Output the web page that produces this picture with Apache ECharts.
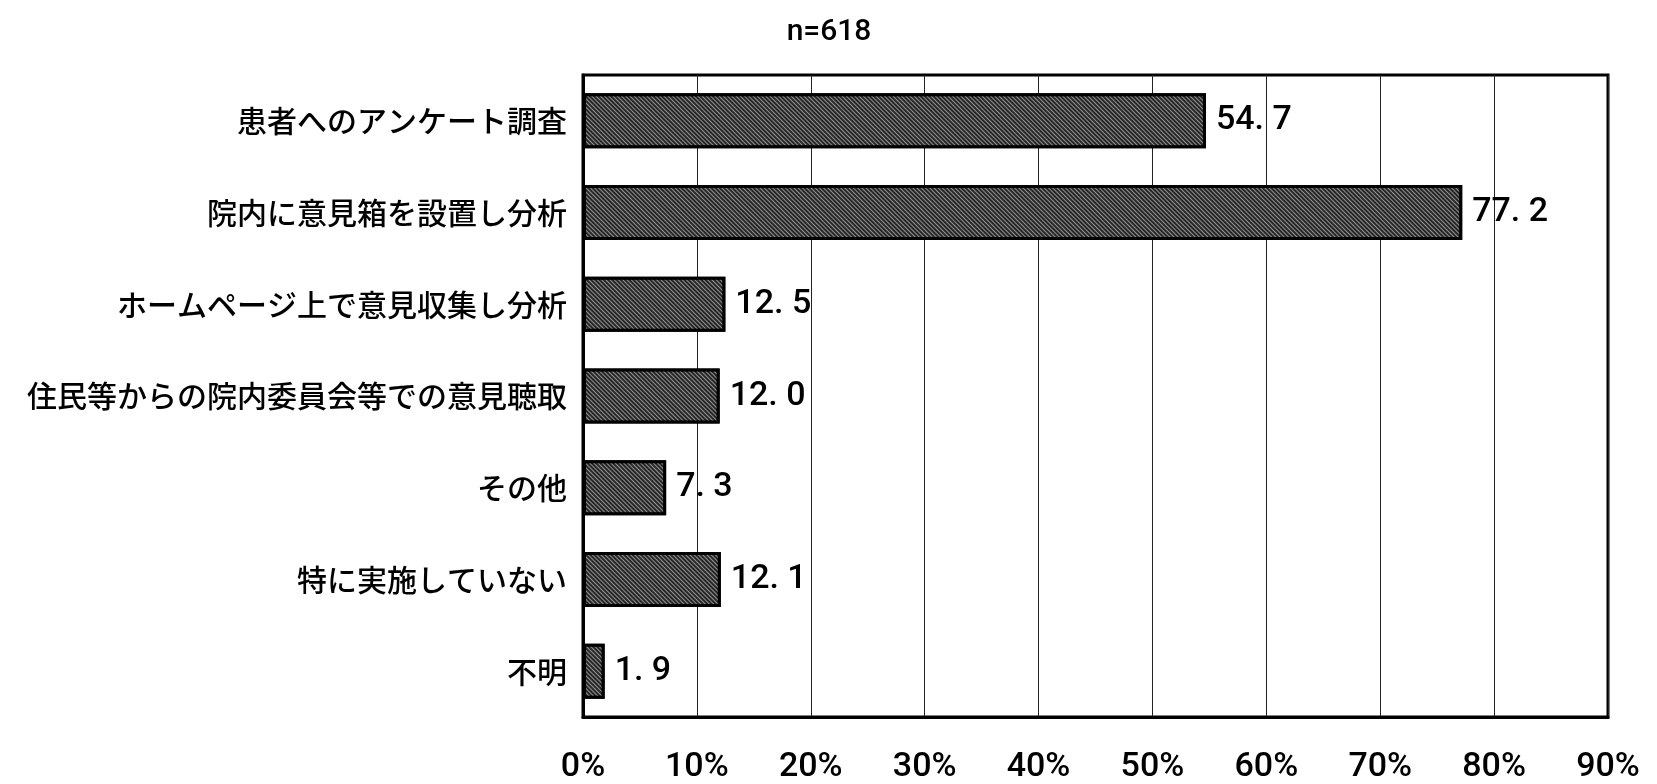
<!DOCTYPE html>
<html>
<head>
<meta charset="utf-8">
<script src="https://cdn.jsdelivr.net/npm/echarts@6/dist/echarts.min.js"></script>
<style>
  html, body { margin: 0; padding: 0; background: #fff; }
  #chart { width: 1657px; height: 784px; }
</style>
</head>
<body>
<div id="chart"></div>
<script>
// 患者の意見収集の方法（複数回答）
const sampleLabel = 'n=618';
const categories = [
  '患者へのアンケート調査',
  '院内に意見箱を設置し分析',
  'ホームページ上で意見収集し分析',
  '住民等からの院内委員会等での意見聴取',
  'その他',
  '特に実施していない',
  '不明'
];
const percentages = [54.7, 77.2, 12.5, 12.0, 7.3, 12.1, 1.9];
const axisMax = 90;
const axisStep = 10;

const narrow = 'Roboto, "Liberation Sans", sans-serif';
const cjk = '"Noto Sans CJK JP", "Noto Sans", sans-serif';

const chart = echarts.init(document.getElementById('chart'), null, { renderer: 'canvas' });

chart.setOption({
  animation: false,
  backgroundColor: '#ffffff',
  title: {
    text: sampleLabel,
    left: 824,
    top: 12,
    textAlign: 'center',
    textStyle: { fontFamily: narrow, fontSize: 30, fontWeight: 500, color: '#000' }
  },
  grid: {
    left: 583,
    top: 75,
    width: 1025,
    height: 642,
    show: true,
    borderColor: '#000',
    borderWidth: 3,
    containLabel: false
  },
  xAxis: {
    type: 'value',
    min: 0,
    max: axisMax,
    interval: axisStep,
    axisLine: { show: true, lineStyle: { color: '#000', width: 3 } },
    axisTick: { show: false },
    splitLine: { show: true, lineStyle: { color: '#222', width: 1 } },
    axisLabel: {
      formatter: '{value}%',
      margin: 33,
      fontFamily: narrow,
      fontSize: 34,
      fontWeight: 500,
      color: '#000'
    }
  },
  yAxis: {
    type: 'category',
    data: categories,
    inverse: true,
    axisLine: { show: true, lineStyle: { color: '#000', width: 3 } },
    axisTick: { show: false },
    splitLine: { show: false },
    axisLabel: {
      margin: 16,
      fontFamily: cjk,
      fontSize: 30,
      fontWeight: 500,
      color: '#000'
    }
  },
  series: [{
    type: 'bar',
    data: percentages,
    barWidth: '60%',
    itemStyle: {
      color: '#262626',
      borderColor: '#000',
      borderWidth: 3,
      decal: {
        symbol: 'rect',
        symbolSize: 1,
        dashArrayX: [[1, 0]],
        dashArrayY: [1, 2],
        rotation: Math.PI / 4,
        color: 'rgba(255,255,255,0.5)'
      }
    },
    label: {
      show: true,
      position: 'right',
      distance: 10,
      fontFamily: narrow,
      fontSize: 34,
      fontWeight: 500,
      color: '#000',
      formatter: p => p.value.toFixed(1).replace('.', '. ')
    }
  }]
});
</script>
</body>
</html>
